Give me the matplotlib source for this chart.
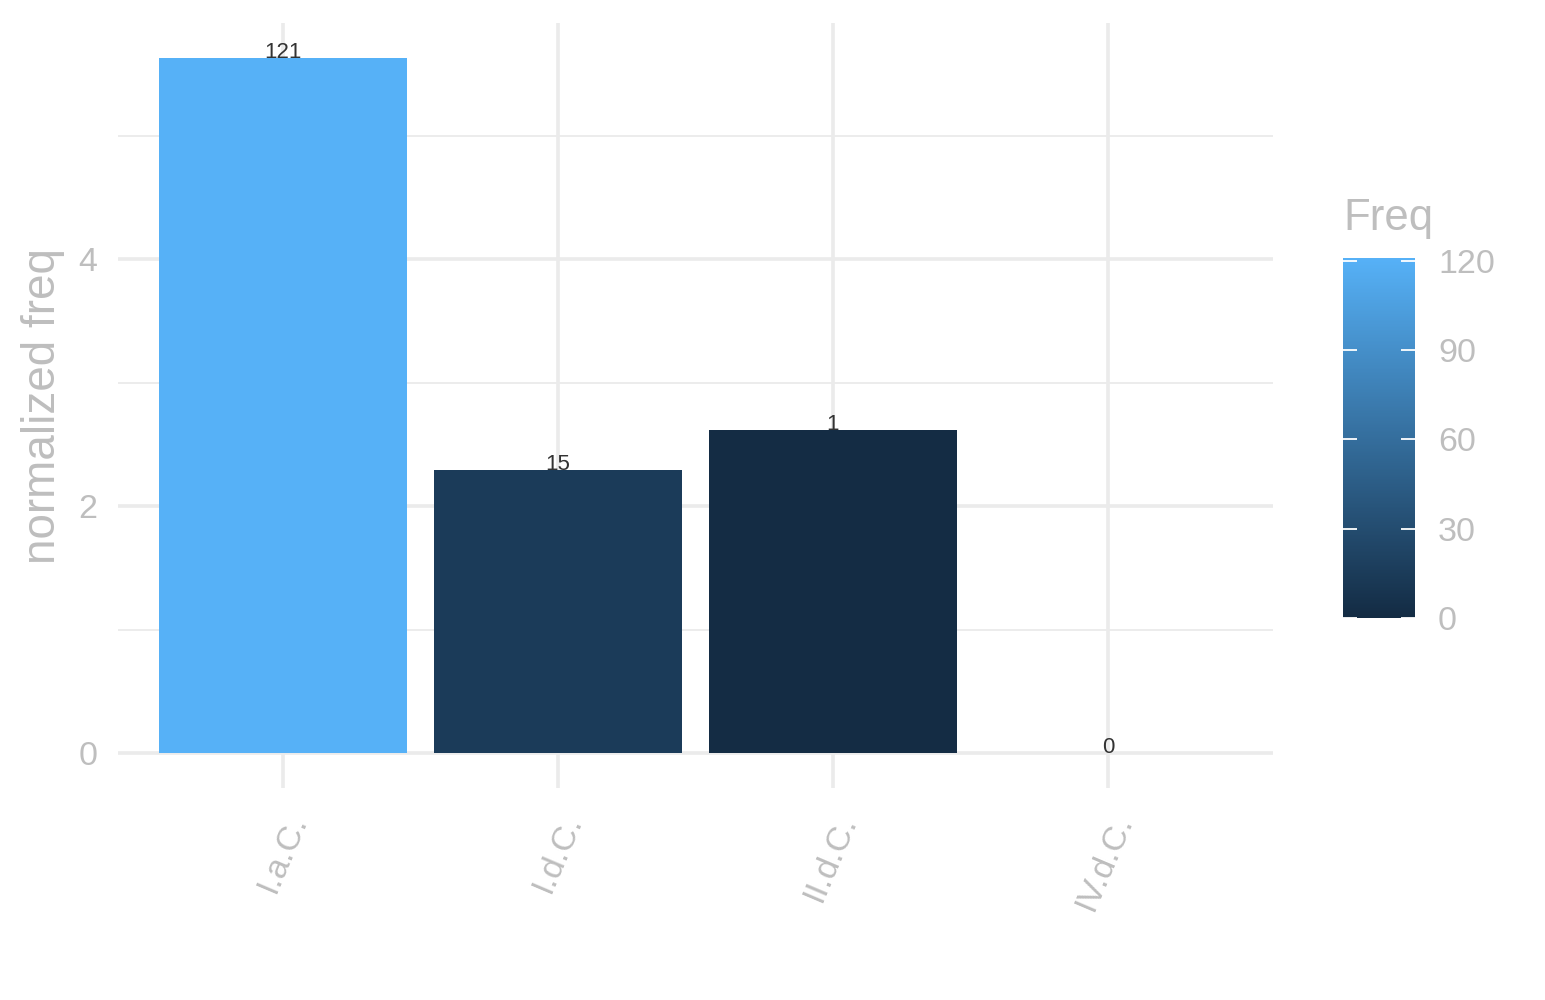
import matplotlib
matplotlib.use('Agg')
import matplotlib.pyplot as plt
import matplotlib.transforms as mtransforms
from matplotlib.colors import LinearSegmentedColormap, Normalize
from matplotlib.cm import ScalarMappable

# data
periods = ['I.a.C.', 'I.d.C.', 'II.d.C.', 'IV.d.C.']
norm_freq = [5.63, 2.29, 2.62, 0.0]
freq = [121, 15, 1, 0]
cbar_ticks = [0, 30, 60, 90, 120]

plt.rcParams['font.family'] = ['Liberation Sans', 'DejaVu Sans']

grid_col = '#EBEBEB'
text_col = '#BEBEBE'

cmap = LinearSegmentedColormap.from_list('gg', ['#132B43', '#56B1F7'])
norm = Normalize(vmin=min(freq), vmax=max(freq))

fig = plt.figure(figsize=(15.45, 10), dpi=100)
ax = fig.add_axes([118 / 1545, 1 - 788 / 1000, 1155 / 1545, 765 / 1000])

x = list(range(len(periods)))
ax.bar(x, norm_freq, width=0.9, color=[cmap(norm(f)) for f in freq], zorder=2)

for xi, h, f in zip(x, norm_freq, freq):
    ax.text(xi, h, str(f), ha='center', va='baseline', fontsize=16,
            color='#333333', zorder=3)

ymax = max(norm_freq)
ax.set_xlim(-0.6, len(periods) - 0.4)
ax.set_ylim(-0.05 * ymax, 1.05 * ymax)

# ggplot minimal look
for s in ax.spines.values():
    s.set_visible(False)
ax.set_yticks([0, 2, 4])
ax.set_yticks([1, 3, 5], minor=True)
ax.set_xticks(x)
ax.grid(True, which='major', color=grid_col, linewidth=2.6, zorder=0)
ax.grid(True, which='minor', axis='y', color=grid_col, linewidth=1.3, zorder=0)
ax.set_axisbelow(True)
ax.tick_params(axis='both', which='both', length=0)
ax.tick_params(axis='y', labelsize=24.5, labelcolor=text_col, pad=15)
ax.set_xticklabels([])

# rotated x labels, right end near the tick
base = mtransforms.blended_transform_factory(ax.transData, ax.transAxes)
lab_tr = mtransforms.offset_copy(base, fig=fig, x=16, y=-28, units='dots')
for xi, lab in zip(x, periods):
    ax.text(xi, 0, lab, transform=lab_tr, rotation=67, rotation_mode='anchor',
            ha='right', va='center', fontsize=24.5, color=text_col)

ax.text(-0.065, 0.5, 'normalized freq', transform=ax.transAxes, rotation=90,
        ha='center', va='center', fontsize=33, color=text_col)

# colour bar legend
cax = fig.add_axes([1343 / 1545, 1 - 618 / 1000, 72 / 1545, 360 / 1000])
sm = ScalarMappable(norm=norm, cmap=cmap)
cb = fig.colorbar(sm, cax=cax, ticks=cbar_ticks)
cb.outline.set_visible(False)
cax.tick_params(direction='in', length=10, width=1.3, color='white',
                left=True, right=True, labelsize=24.5, labelcolor=text_col, pad=16.5)
cax.text(0, 1.078, 'Freq', transform=cax.transAxes, ha='left', va='baseline',
         fontsize=31.5, color=text_col)

fig.savefig('out.png', dpi=100, facecolor='white')
